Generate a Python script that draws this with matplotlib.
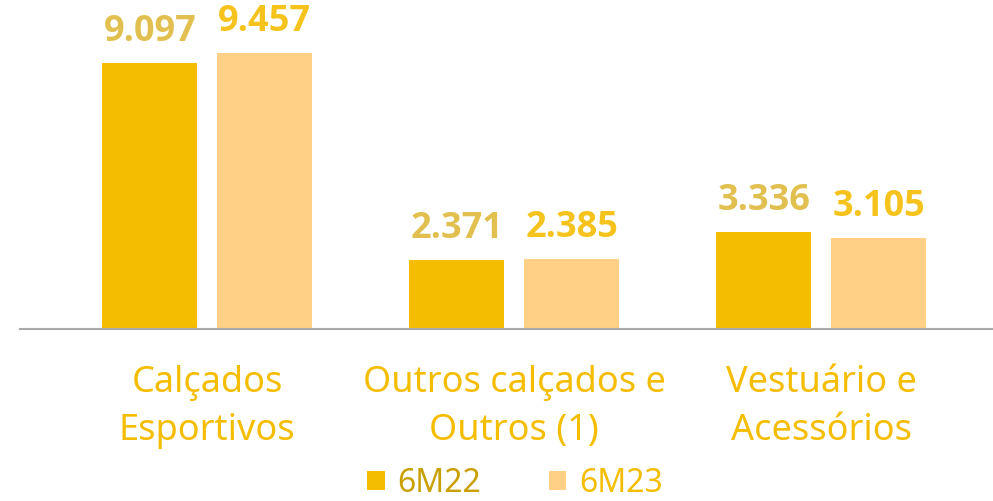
import numpy as np
import matplotlib
matplotlib.use("Agg")
from matplotlib import pyplot as plt
from matplotlib.patches import Patch

plt.rcParams['font.family'] = ['Noto Sans', 'DejaVu Sans']

categories = ["Calçados\nEsportivos", "Outros calçados e\nOutros (1)", "Vestuário e\nAcessórios"]
series_names = ["6M22", "6M23"]
vals_6m22 = [9.097, 2.371, 3.336]
vals_6m23 = [9.457, 2.385, 3.105]

bar_colors = ["#F5BD00", "#FFD085"]
value_colors = ["#E2C050", "#F5C31C"]
legend_text_colors = ["#C9A000", "#F5BD00"]
cat_color = "#F5BD00"

fig = plt.figure(figsize=(9.93, 5.01), dpi=100)
ax = fig.add_axes([20 / 993, (501 - 329) / 501, (993 - 20) / 993, 292 / 501])

x = np.arange(len(categories))
w = 0.31
off = 0.187

for i, (vals, col, vcol) in enumerate(zip([vals_6m22, vals_6m23], bar_colors, value_colors)):
    pos = x + (-off if i == 0 else off)
    ax.bar(pos, vals, width=w, color=col, zorder=2)
    for p, v in zip(pos, vals):
        ax.text(p, v + 0.75, f"{v:.3f}", ha='center', va='baseline',
                fontsize=26, fontweight='bold', family=['Open Sans', 'DejaVu Sans'],
                color=vcol)

ax.set_xlim(-0.61, 2.56)
ax.set_ylim(0, 10)
for s in ['top', 'right', 'left']:
    ax.spines[s].set_visible(False)
ax.spines['bottom'].set_color('#AAAAAA')
ax.spines['bottom'].set_linewidth(1.5)
ax.set_yticks([])
ax.set_xticks(x)
ax.set_xticklabels(categories, fontsize=26, color=cat_color, linespacing=1.45)
ax.tick_params(axis='x', length=0, pad=26)

handles = [Patch(facecolor=c, edgecolor='none') for c in bar_colors]
leg = fig.legend(handles, series_names, loc='center', bbox_to_anchor=(515 / 993, 1 - 483 / 501),
                 ncol=2, frameon=False, fontsize=23, handlelength=0.55, handleheight=0.55,
                 handletextpad=0.4, columnspacing=2.1, labelcolor=legend_text_colors,
                 borderaxespad=0, borderpad=0)

plt.savefig("out.png", dpi=100)
